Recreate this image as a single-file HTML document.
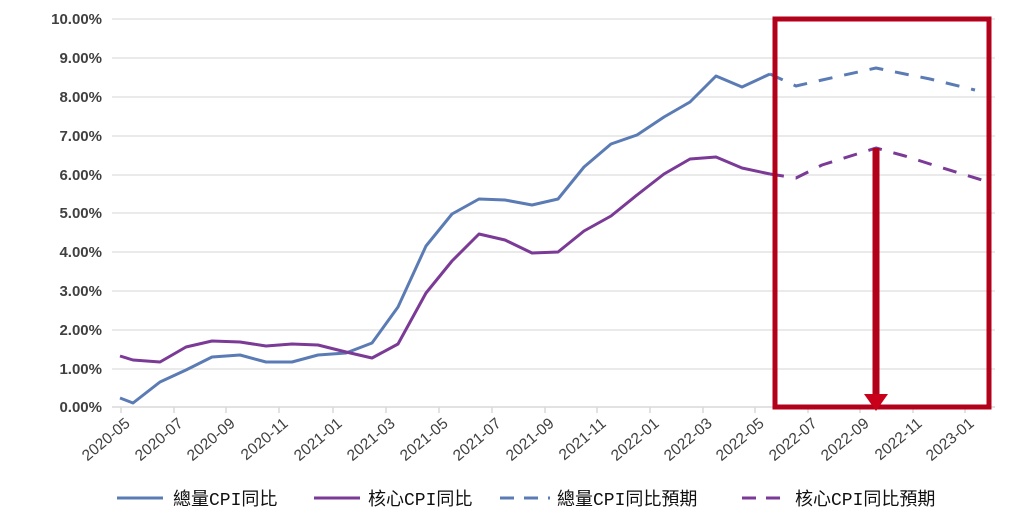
<!DOCTYPE html>
<html><head><meta charset="utf-8"><style>body{margin:0;background:#fff}</style></head><body>
<svg width="1028" height="522" xmlns="http://www.w3.org/2000/svg" font-family="Liberation Sans, sans-serif">
<g stroke="#e3e3e3" stroke-width="1.5">
<line x1="112" x2="995" y1="19" y2="19"/><line x1="112" x2="995" y1="58" y2="58"/><line x1="112" x2="995" y1="97" y2="97"/><line x1="112" x2="995" y1="136" y2="136"/><line x1="112" x2="995" y1="175" y2="175"/><line x1="112" x2="995" y1="213" y2="213"/><line x1="112" x2="995" y1="252" y2="252"/><line x1="112" x2="995" y1="291" y2="291"/><line x1="112" x2="995" y1="330" y2="330"/><line x1="112" x2="995" y1="369" y2="369"/>
</g>
<line x1="112" x2="995" y1="407" y2="407" stroke="#d9d9d9" stroke-width="1.5"/>
<g stroke="#d9d9d9" stroke-width="1.5">
<line x1="121" x2="121" y1="407" y2="413"/><line x1="174" x2="174" y1="407" y2="413"/><line x1="226" x2="226" y1="407" y2="413"/><line x1="279" x2="279" y1="407" y2="413"/><line x1="333" x2="333" y1="407" y2="413"/><line x1="386" x2="386" y1="407" y2="413"/><line x1="439" x2="439" y1="407" y2="413"/><line x1="492" x2="492" y1="407" y2="413"/><line x1="545" x2="545" y1="407" y2="413"/><line x1="597" x2="597" y1="407" y2="413"/><line x1="650" x2="650" y1="407" y2="413"/><line x1="703" x2="703" y1="407" y2="413"/><line x1="755" x2="755" y1="407" y2="413"/><line x1="808" x2="808" y1="407" y2="413"/><line x1="860" x2="860" y1="407" y2="413"/><line x1="913" x2="913" y1="407" y2="413"/><line x1="965" x2="965" y1="407" y2="413"/>
</g>
<g fill="#404040" font-size="15" font-weight="bold" text-anchor="end">
<text x="102" y="24">10.00%</text><text x="102" y="63">9.00%</text><text x="102" y="102">8.00%</text><text x="102" y="141">7.00%</text><text x="102" y="180">6.00%</text><text x="102" y="218">5.00%</text><text x="102" y="257">4.00%</text><text x="102" y="296">3.00%</text><text x="102" y="335">2.00%</text><text x="102" y="374">1.00%</text><text x="102" y="412">0.00%</text>
</g>
<g fill="#404040" font-size="15.5" text-anchor="end">
<text transform="translate(131,425) rotate(-40)">2020-05</text>
<text transform="translate(184,425) rotate(-40)">2020-07</text>
<text transform="translate(236,425) rotate(-40)">2020-09</text>
<text transform="translate(289,425) rotate(-40)">2020-11</text>
<text transform="translate(343,425) rotate(-40)">2021-01</text>
<text transform="translate(396,425) rotate(-40)">2021-03</text>
<text transform="translate(449,425) rotate(-40)">2021-05</text>
<text transform="translate(502,425) rotate(-40)">2021-07</text>
<text transform="translate(555,425) rotate(-40)">2021-09</text>
<text transform="translate(607,425) rotate(-40)">2021-11</text>
<text transform="translate(660,425) rotate(-40)">2022-01</text>
<text transform="translate(713,425) rotate(-40)">2022-03</text>
<text transform="translate(765,425) rotate(-40)">2022-05</text>
<text transform="translate(818,425) rotate(-40)">2022-07</text>
<text transform="translate(870,425) rotate(-40)">2022-09</text>
<text transform="translate(923,425) rotate(-40)">2022-11</text>
<text transform="translate(975,425) rotate(-40)">2023-01</text>
</g>
<g fill="none" stroke-width="3" stroke-linejoin="round">
<polyline stroke="#5b7bb5" points="120,398 133,403 160,382 186,370 212,357 240,355 266,362 292,362 318,355 346,353 372,343 398,307 426,246 452,214 479,199 505,200 532,205 558,199 584,167 611,144 637,135 664,117 690,102 716,76 742,87 770,74"/>
<polyline stroke="#5b7bb5" stroke-dasharray="14,12" points="770,74 796,86 822,80 876,68 905,74 930,79 975,90"/>
<polyline stroke="#7a3a96" points="120,356 133,360 160,362 186,347 212,341 240,342 266,346 292,344 318,345 346,352 372,358 398,344 426,293 452,261 479,234 505,240 532,253 558,252 584,231 611,216 637,195 664,174 690,159 716,157 742,168 770,174"/>
<polyline stroke="#7a3a96" stroke-dasharray="14,12" points="770,174 796,178 822,165 876,148 905,156 930,164 985,181"/>
</g>
<rect x="775" y="19" width="214" height="388" fill="none" stroke="#b3001b" stroke-width="5"/>
<line x1="876" x2="876" y1="148" y2="396" stroke="#b3001b" stroke-width="7"/>
<polygon points="864,394 888,394 876,411" fill="#c8001a"/>
<g font-family="Liberation Mono, Noto Sans CJK TC, sans-serif" font-size="18" fill="#111">
<line x1="117" x2="163" y1="498" y2="498" stroke="#5b7bb5" stroke-width="3"/>
<text x="173" y="505">總量CPI同比</text>
<line x1="314" x2="360" y1="498" y2="498" stroke="#7a3a96" stroke-width="3"/>
<text x="368" y="505">核心CPI同比</text>
<line x1="500" x2="550" y1="498" y2="498" stroke="#5b7bb5" stroke-width="3" stroke-dasharray="14,10"/>
<text x="557" y="505">總量CPI同比預期</text>
<line x1="742" x2="786" y1="498" y2="498" stroke="#7a3a96" stroke-width="3" stroke-dasharray="14,10"/>
<text x="795" y="505">核心CPI同比預期</text>
</g>
</svg>
</body></html>
